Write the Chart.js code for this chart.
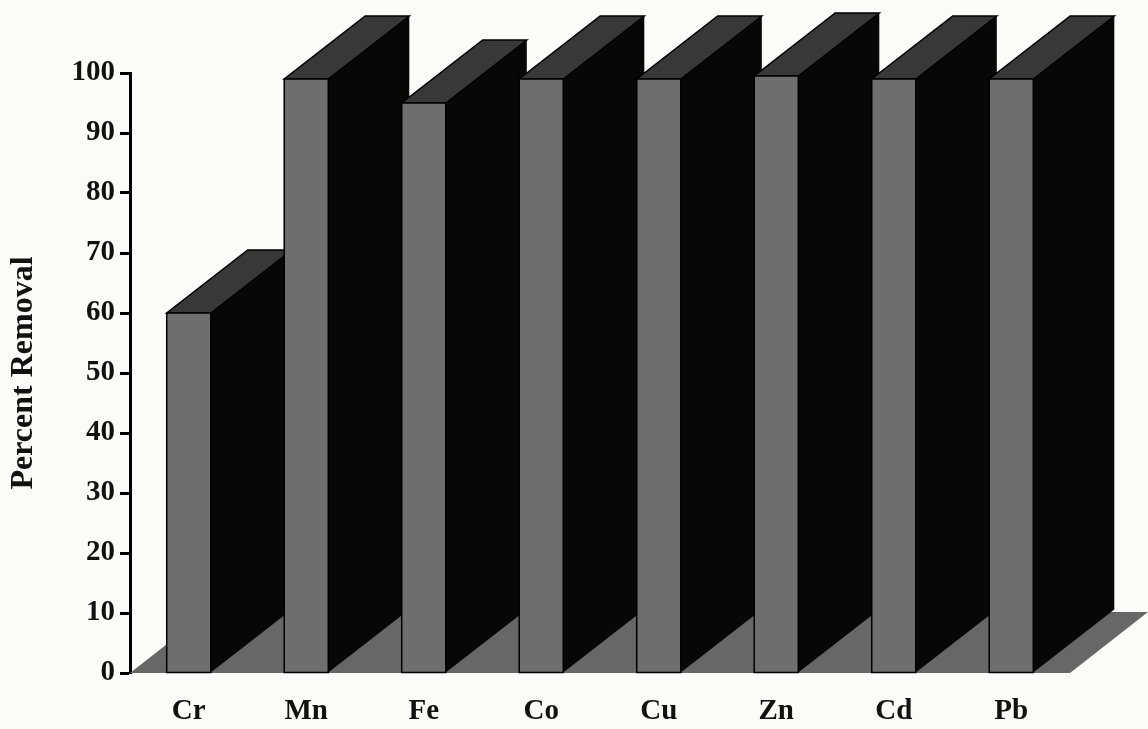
<!DOCTYPE html>
<html>
<head>
<meta charset="utf-8">
<script src="https://cdn.jsdelivr.net/npm/chart.js@4/dist/chart.umd.min.js"></script>
<style>
  html, body { margin: 0; padding: 0; background: #fbfbfa; }
  #wrap { width: 1148px; height: 729px; }
</style>
</head>
<body>
<div id="wrap"><canvas id="chart" width="1148" height="729"></canvas></div>
<script>
// data
const metals = ['Cr', 'Mn', 'Fe', 'Co', 'Cu', 'Zn', 'Cd', 'Pb'];
const removal = [60, 99, 95, 99, 99, 99.5, 99, 99];
const yTicks = [0, 10, 20, 30, 40, 50, 60, 70, 80, 90, 100];

// 3d look
const DEPTH_X = 81, DEPTH_Y = -63;
const FLOOR_X = 78, FLOOR_Y = -61;
const FRONT = '#6e6e6e', TOP = '#383838', SIDE = '#070707', FLOOR = '#676767';

const serif = "'Liberation Serif', 'Times New Roman', serif";

const boxes3d = {
    id: 'boxes3d',
    beforeDatasetsDraw(chart) {
        const ctx = chart.ctx;
        const a = chart.chartArea;
        const y0 = chart.scales.y.getPixelForValue(0);
        ctx.save();
        ctx.fillStyle = FLOOR;
        ctx.beginPath();
        ctx.moveTo(a.left, y0);
        ctx.lineTo(a.right, y0);
        ctx.lineTo(a.right + FLOOR_X, y0 + FLOOR_Y);
        ctx.lineTo(a.left + FLOOR_X, y0 + FLOOR_Y);
        ctx.closePath();
        ctx.fill();
        ctx.restore();
    },
    afterDatasetsDraw(chart) {
        const ctx = chart.ctx;
        const meta = chart.getDatasetMeta(0);
        ctx.save();
        meta.data.forEach(bar => {
            const { x, y, base, width } = bar.getProps(['x', 'y', 'base', 'width'], true);
            const l = x - width / 2, r = x + width / 2;
            // side face
            ctx.fillStyle = SIDE;
            ctx.beginPath();
            ctx.moveTo(r, y);
            ctx.lineTo(r + DEPTH_X, y + DEPTH_Y);
            ctx.lineTo(r + DEPTH_X, base + DEPTH_Y);
            ctx.lineTo(r, base);
            ctx.closePath();
            ctx.fill();
            // top face
            ctx.fillStyle = TOP;
            ctx.strokeStyle = '#000';
            ctx.lineWidth = 1.5;
            ctx.beginPath();
            ctx.moveTo(l, y);
            ctx.lineTo(r, y);
            ctx.lineTo(r + DEPTH_X, y + DEPTH_Y);
            ctx.lineTo(l + DEPTH_X, y + DEPTH_Y);
            ctx.closePath();
            ctx.fill();
            ctx.stroke();
            // front face
            ctx.fillStyle = FRONT;
            ctx.fillRect(l, y, width, base - y);
            ctx.strokeRect(l, y, width, base - y);
        });
        ctx.restore();
    }
};

new Chart(document.getElementById('chart'), {
    type: 'bar',
    data: {
        labels: metals,
        datasets: [{
            data: removal,
            backgroundColor: 'rgba(0,0,0,0)',
            borderWidth: 0,
            barPercentage: 0.375,
            categoryPercentage: 1
        }]
    },
    options: {
        responsive: false,
        animation: false,
        layout: { padding: { top: 73, right: 78, left: 0, bottom: 0 } },
        plugins: { legend: { display: false }, tooltip: { enabled: false } },
        scales: {
            x: {
                grid: { display: false },
                border: { display: false },
                ticks: {
                    color: '#111',
                    padding: 13,
                    font: { family: serif, size: 29, weight: 'bold' }
                },
                afterFit(scale) { scale.height = 56; }
            },
            y: {
                min: 0,
                max: 100,
                afterBuildTicks(scale) { scale.ticks = yTicks.map(v => ({ value: v })); },
                grid: {
                    display: true,
                    drawOnChartArea: false,
                    drawTicks: true,
                    tickLength: 10,
                    tickWidth: 3,
                    color: '#000'
                },
                border: { display: true, width: 3, color: '#000' },
                ticks: {
                    color: '#111',
                    padding: 5,
                    font: { family: serif, size: 29, weight: 'bold' }
                },
                title: {
                    display: true,
                    text: 'Percent Removal',
                    color: '#111',
                    padding: { top: 5, bottom: 0 },
                    font: { family: serif, size: 32, weight: 'bold' }
                },
                afterFit(scale) { scale.width = 130; }
            }
        }
    },
    plugins: [boxes3d]
});
</script>
</body>
</html>
